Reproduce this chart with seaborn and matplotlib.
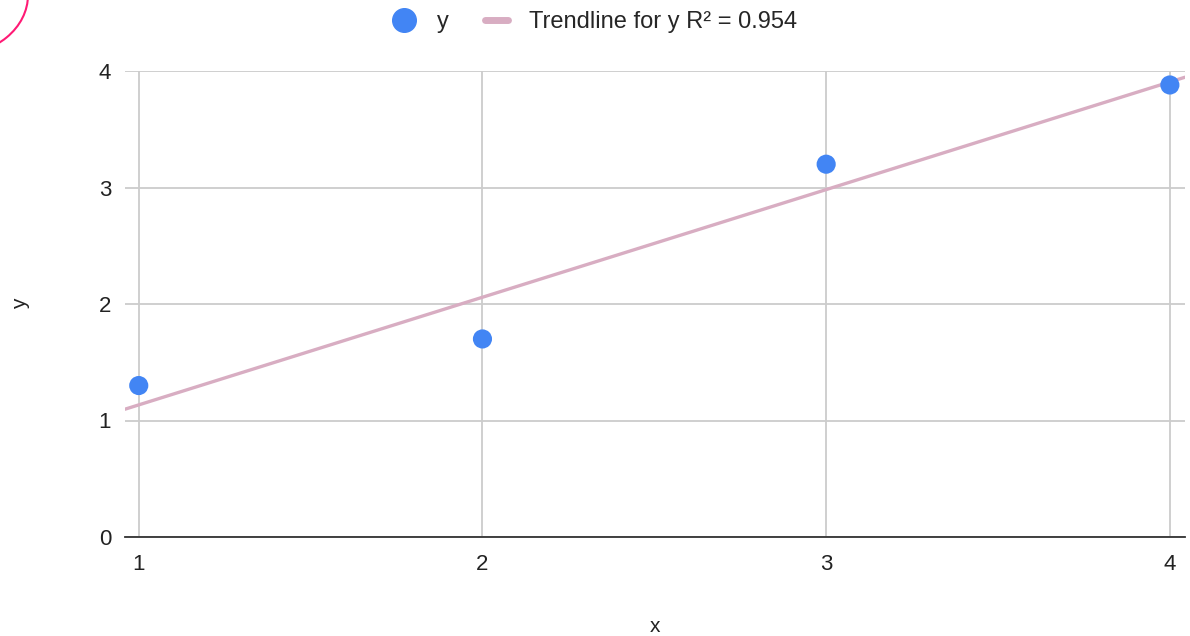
import numpy as np
import pandas as pd
import matplotlib.pyplot as plt
import seaborn as sns
from matplotlib.lines import Line2D
from matplotlib.patches import Arc

# data
x_vals = [1, 2, 3, 4]
y_vals = [1.3, 1.7, 3.2, 3.88]
x_ticks = [1, 2, 3, 4]
y_ticks = [0, 1, 2, 3, 4]

df = pd.DataFrame({"x": x_vals, "y": y_vals})

# R² of the linear fit for the legend
slope, intercept = np.polyfit(df["x"], df["y"], 1)
pred = slope * df["x"] + intercept
r2 = 1 - ((df["y"] - pred) ** 2).sum() / ((df["y"] - df["y"].mean()) ** 2).sum()

sns.set_style("white")
plt.rcParams["font.family"] = ["Liberation Sans", "DejaVu Sans"]

fig = plt.figure(figsize=(11.9, 6.36), dpi=100)
ax = fig.add_axes([125 / 1190, 99 / 636, 1060 / 1190, 466 / 636])

ax.set_xlim(0.96, 4.044)
ax.set_ylim(0, 4)

# trendline first so the dots sit on top
sns.regplot(data=df, x="x", y="y", ax=ax, scatter=False, ci=None, truncate=False,
            line_kws={"color": "#d8adc2", "lw": 2.4, "zorder": 2})
sns.scatterplot(data=df, x="x", y="y", ax=ax, color="#4285f4", s=190,
                edgecolor="none", zorder=3)

ax.set_xticks(x_ticks)
ax.set_yticks(y_ticks)
ax.grid(True, color="#cccccc", lw=1.3)
ax.set_axisbelow(True)
for side in ["top", "right", "left"]:
    ax.spines[side].set_visible(False)
ax.spines["bottom"].set_color("#333333")
ax.spines["bottom"].set_linewidth(1.3)
ax.tick_params(axis="both", length=0, labelsize=16, colors="#222222")
ax.tick_params(axis="x", pad=12)
ax.tick_params(axis="y", pad=10)

ax.set_xlabel("x", fontsize=15, color="#222222")
ax.set_ylabel("y", fontsize=15, color="#222222")
ax.xaxis.set_label_coords(0.5, -(617 - 537) / 466)
ax.yaxis.set_label_coords(-(125 - 30) / 1060, 0.5)

handles = [
    Line2D([], [], marker="o", color="#4285f4", linestyle="none", markersize=17),
    Line2D([], [], color="#d8adc2", lw=5),
]
labels = ["y", f"Trendline for y R\u00b2 = {r2:.3f}"]
fig.legend(handles, labels, loc="upper center", bbox_to_anchor=(0.5, 1.005),
           ncol=2, frameon=False, fontsize=17, handlelength=1.0,
           columnspacing=1.5, handletextpad=0.9, borderaxespad=0.2)

# stray pink pen stroke in the top-left corner
fig.add_artist(Arc((-45 / 1190, 1 + 5 / 636), 146 / 1190, 120 / 636,
                   theta1=270, theta2=360, transform=fig.transFigure,
                   color="#ff1a75", lw=1.5))

fig.savefig("out.png", dpi=100)
